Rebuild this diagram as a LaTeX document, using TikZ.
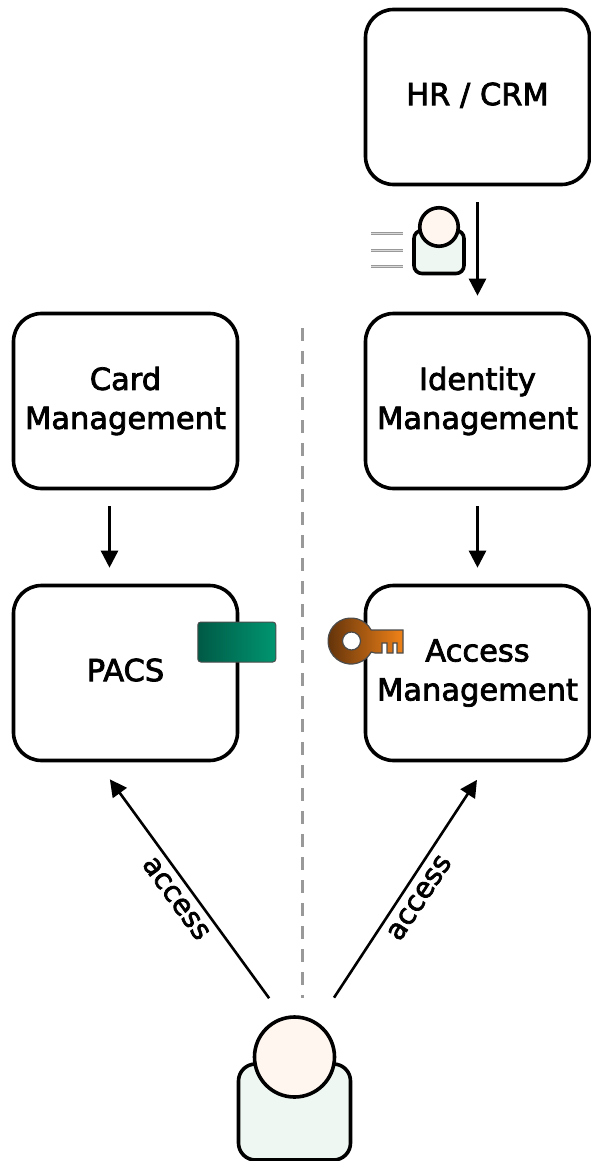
\documentclass[tikz,border=0pt]{standalone}
\usepackage{fontspec}
\setmainfont{DejaVu Sans}[FakeBold = 2.5]
\usetikzlibrary{arrows.meta, positioning}
\definecolor{bodygreen}{HTML}{EEF7F2}
\definecolor{headpink}{HTML}{FFF6F0}
\definecolor{badgedark}{HTML}{005A46}
\definecolor{badgelight}{HTML}{009670}
\definecolor{keydark}{HTML}{5E300A}
\definecolor{keylight}{HTML}{F08218}
\tikzstyle{sys} = [
  rectangle, rounded corners = 28,
  minimum width = 224, minimum height = 175, line width = 3.6,
  draw = black, text centered, align = center, font = \fontsize{30.5}{39}\selectfont
]
\tikzstyle{flow} = [-{Triangle[length = 17, width = 17]}, line width = 2.6, shorten < = 16, shorten > = 16]
\tikzstyle{use} = [flow, shorten < = 21, shorten > = 21]
\tikzstyle{label} = [sloped, below = 4, midway, font = \fontsize{28.5}{34}\selectfont]
\tikzstyle{body} = [rectangle, rounded corners = 17, draw = black, line width = 3.6, fill = bodygreen]
\tikzstyle{head} = [circle, draw = black, line width = 3.6, fill = headpink, inner sep = 0]
\tikzstyle{doc} = [gray!80, line width = 1.1, double = gray!30, double distance = 0.8]
\begin{document}
\begin{tikzpicture}[node distance = 0, x = 1pt, y = 1pt]
    \useasboundingbox (0, 0) rectangle (590, -1161);

    \node [sys] (hr) at (477.5, -97) {HR / CRM\vphantom{g}};
    \node [sys, below of = hr, yshift = -304] (idm) {Identity\\Management};
    \node [sys, below of = idm, yshift = -272] (am) {Access\\Management};
    \node [sys, left of = idm, xshift = -352] (card) {Card\\Management};
    \node [sys, below of = card, yshift = -272] (pacs) {PACS\vphantom{g}};

    % user at the bottom
    \node [body, minimum width = 112, minimum height = 96, below of = pacs, xshift = 169, yshift = -439] (user) {};
    \node [head, minimum size = 80, above of = user, yshift = 55] (user-head) {};

    % small user beside the feed
    \node [body, rounded corners = 8, minimum width = 50, minimum height = 43, left of = hr, xshift = -38.5, yshift = -155] (feed) {};
    \node [head, minimum size = 38.5, above of = feed, yshift = 25] (feed-head) {};
    \draw [doc] (371, -233) -- (403, -233);
    \draw [doc] (371, -250) -- (403, -250);
    \draw [doc] (371, -266) -- (403, -266);

    \coordinate (sep-top) at (302, -328);
    \coordinate (sep-bottom) at (302, -998);
    \draw [gray!80, line width = 3, dash pattern = on 13 off 10] (sep-top) -- (sep-bottom);

    \draw [flow] (hr) -- (idm);
    \draw [flow] ([xshift = -16]card.south) -- ([xshift = -16]pacs.north);
    \draw [flow] (idm) -- (am);
    \draw [use] ([xshift = -13]user-head.north) -- node [label] {access} ([xshift = -28]pacs.south);
    \draw [use] ([xshift = 28]user-head.north) -- node [label] {access} ([xshift = 11]am.south);

    % card on the PACS box
    \node [rectangle, rounded corners = 3, minimum width = 78, minimum height = 40, draw = black!70, line width = 1,
      left color = badgedark, right color = badgelight, right = -42 of pacs.east, yshift = 31] (badge) {};

    % key on the access box
    \path [even odd rule, draw = black!70, line width = 1.2, left color = keydark, right color = keylight]
      (371.2, -630) arc [start angle = 28.6, end angle = 331.4, radius = 23]
      -- (375, -653) -- (382, -653) -- (382, -643) -- (387, -643) -- (387, -653) -- (393, -653)
      -- (393, -643) -- (397, -643) -- (397, -653) -- (403, -653) -- (403, -630) -- cycle
      (360.5, -641) arc [start angle = 0, end angle = 360, radius = 9];
\end{tikzpicture}
\end{document}
